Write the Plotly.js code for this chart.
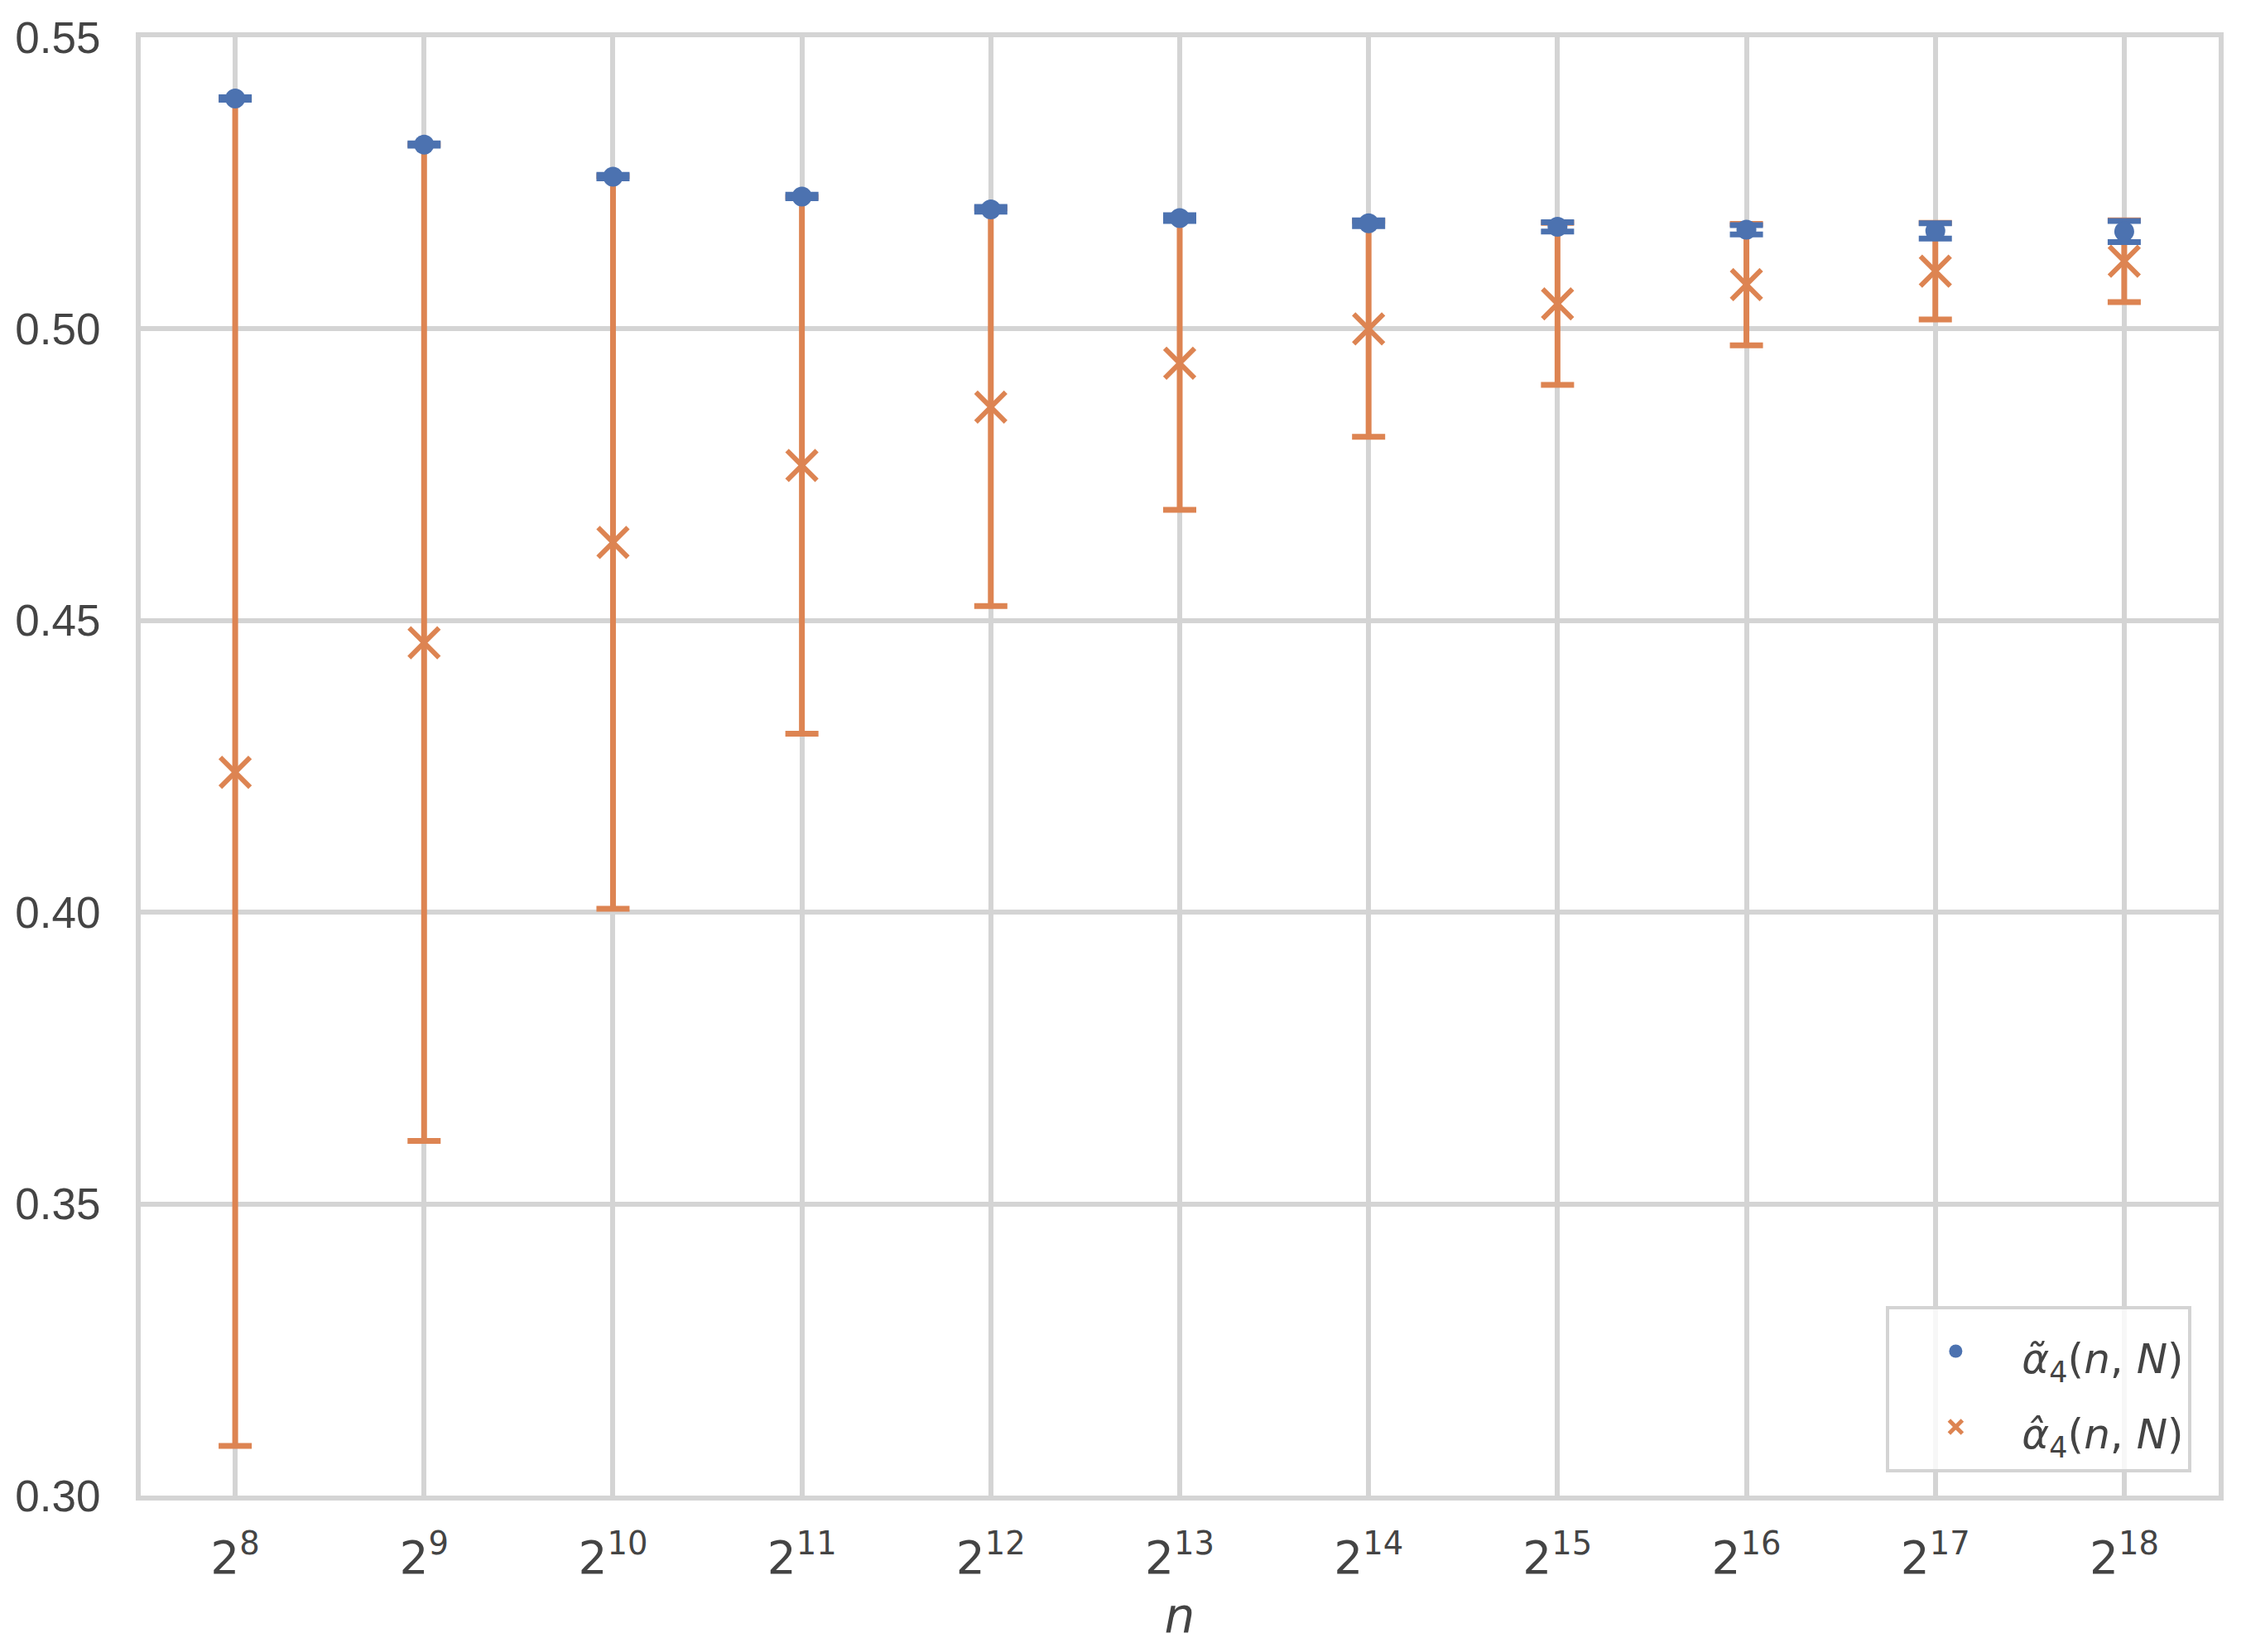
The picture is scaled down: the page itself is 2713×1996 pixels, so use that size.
<!DOCTYPE html>
<html>
<head>
<meta charset="utf-8">
<script src="https://cdn.plot.ly/plotly-3.0.1.min.js"></script>
<style>
  html, body { margin: 0; padding: 0; background: #fff; }
  #chart { width: 2713px; height: 1996px; }
</style>
</head>
<body>
<div id="chart"></div>
<script>
// exponents k of n = 2^k
var exponents = [8, 9, 10, 11, 12, 13, 14, 15, 16, 17, 18];
var tickLabels = exponents.map(function(k){ return "2<sup>" + k + "</sup>"; });

// alpha tilde (blue dots)
var tildeValues = [0.5395, 0.5316, 0.5261, 0.5227, 0.5205, 0.5190, 0.5181, 0.5175, 0.5170, 0.5168, 0.5167];
var tildeErrors = [0.0002, 0.0002, 0.0003, 0.0003, 0.0004, 0.0005, 0.0005, 0.0008, 0.0008, 0.0013, 0.0018];

// alpha hat (orange crosses)
var hatValues = [0.4240, 0.4462, 0.4634, 0.4766, 0.4866, 0.4941, 0.5000, 0.5043, 0.5076, 0.5099, 0.5116];
var hatErrors = [0.1155, 0.0854, 0.0628, 0.0460, 0.0341, 0.0251, 0.0185, 0.0139, 0.0104, 0.0083, 0.0070];

var blue = "#4C72B0";
var orange = "#DD8452";

// legend rows are spaced by the legend font size, the text itself is kept smaller
function legendLabel(accent){
    return "<span style='font-size:50px'><i>α" + accent + "</i><sub>4</sub>(<i>n</i>, <i>N</i>)</span>";
}

// orange first so the blue dots sit on top, legend reversed
var hatTrace = {
    x: exponents,
    y: hatValues,
    name: legendLabel("\u0302"),
    type: "scatter",
    mode: "markers",
    marker: {symbol: "x-thin-open", size: 36, color: orange, line: {color: orange, width: 6}},
    error_y: {type: "data", array: hatErrors, visible: true, color: orange, thickness: 7, width: 20}
};

var tildeTrace = {
    x: exponents,
    y: tildeValues,
    name: legendLabel("\u0303"),
    type: "scatter",
    mode: "markers",
    marker: {symbol: "circle", size: 24, color: blue},
    error_y: {type: "data", array: tildeErrors, visible: true, color: blue, thickness: 7, width: 20}
};

var layout = {
    width: 2713,
    height: 1996,
    margin: {l: 170, r: 33, t: 45, b: 189},
    paper_bgcolor: "#fff",
    plot_bgcolor: "#fff",
    showlegend: true,
    legend: {
        x: 0.987, y: 0.016, xanchor: "right", yanchor: "bottom",
        traceorder: "reversed",
        bgcolor: "rgba(255,255,255,0.8)",
        bordercolor: "#d4d4d4", borderwidth: 4,
        itemwidth: 150,
        font: {family: "DejaVu Sans", size: 68, color: "#444"}
    },
    xaxis: {
        range: [7.5, 18.5],
        tickvals: exponents,
        ticktext: tickLabels,
        showgrid: true, gridcolor: "#d4d4d4", gridwidth: 6,
        showline: true, linecolor: "#d4d4d4", linewidth: 6, mirror: true,
        zeroline: false,
        ticks: "", ticklabelstandoff: 22,
        tickfont: {family: "DejaVu Sans", size: 55, color: "#444"},
        title: {text: "<i>n</i>", font: {family: "DejaVu Sans", size: 58, color: "#444"}, standoff: 20}
    },
    yaxis: {
        range: [0.30, 0.55],
        dtick: 0.05,
        tickformat: ".2f",
        showgrid: true, gridcolor: "#d4d4d4", gridwidth: 6,
        showline: true, linecolor: "#d4d4d4", linewidth: 6, mirror: true,
        zeroline: false,
        ticks: "", ticklabelstandoff: 32,
        tickfont: {family: "Liberation Sans", size: 53, color: "#444"}
    }
};

Plotly.newPlot("chart", [hatTrace, tildeTrace], layout, {staticPlot: true});
</script>
</body>
</html>
